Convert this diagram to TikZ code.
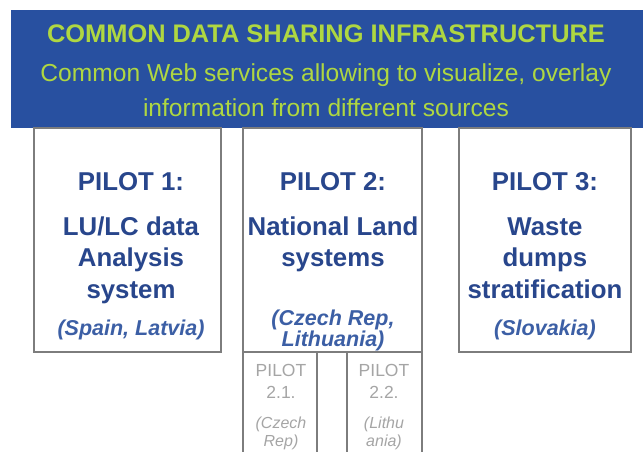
\documentclass[tikz,border=0pt]{standalone}
\usepackage{fontspec}
\setmainfont{Liberation Sans}
\definecolor{bannerblue}{RGB}{40,80,160}
\definecolor{bannertext}{RGB}{175,215,65}
\definecolor{pilotblue}{RGB}{40,70,140}
\definecolor{countryblue}{RGB}{60,95,165}
\definecolor{boxgray}{RGB}{125,125,125}
\definecolor{subgray}{RGB}{165,165,165}
\begin{document}
\begin{tikzpicture}[x=1pt,y=-1pt,
  every node/.style={inner sep=0pt,anchor=base},
  pilotbox/.style={draw=boxgray,line width=1.6pt,fill=white},
  subbox/.style={draw=boxgray,line width=1.6pt},
  title/.style={text=bannertext,yshift=-9pt,font=\bfseries\fontsize{25.4}{28}\selectfont},
  subtitle/.style={text=bannertext,yshift=-8.5pt,font=\fontsize{24.6}{27}\selectfont},
  pilottext/.style={text=pilotblue,yshift=-9.2pt,font=\bfseries\fontsize{25.8}{29}\selectfont},
  country/.style={text=countryblue,yshift=-7.7pt,font=\bfseries\itshape\fontsize{21.5}{24}\selectfont},
  subtext/.style={text=subgray,yshift=-6.3pt,font=\fontsize{17.5}{20}\selectfont},
  subcountry/.style={text=subgray,yshift=-5.7pt,font=\itshape\fontsize{16}{18}\selectfont}]
\useasboundingbox (0,0) rectangle (643,452);
\fill[white] (0,0) rectangle (643,452);

% banner
\fill[bannerblue] (11,10) rectangle (650,128);
\node[title] (ttl) at (326,34) {COMMON DATA SHARING INFRASTRUCTURE};
\node[subtitle] (sub1) at (326,73) {Common Web services allowing to visualize, overlay};
\node[subtitle] (sub2) at (326,108) {information from different sources};

% pilot boxes
\draw[pilotbox] (34,128) rectangle (221,352);
\draw[pilotbox] (243,128) rectangle (422,352);
\draw[pilotbox] (459,128) rectangle (631,352);

% sub-pilot boxes under pilot 2 (open below)
\begin{scope}
\clip (0,0) rectangle (643,452);
\draw[subbox] (243,462) -- (243,352) -- (317,352) -- (317,462);
\draw[subbox] (347,462) -- (347,352) -- (422,352) -- (422,462);
\end{scope}

% pilot 1
\node[pilottext] (p1) at (131,181) {PILOT 1:};
\node[pilottext] (p1a) at (131,226) {LU/LC data};
\node[pilottext] (p1b) at (131,257) {Analysis};
\node[pilottext] (p1c) at (131,289) {system};
\node[country] (p1d) at (131,328) {(Spain, Latvia)};

% pilot 2
\node[pilottext] (p2) at (333,181) {PILOT 2:};
\node[pilottext] (p2a) at (333,226) {National Land};
\node[pilottext] (p2b) at (333,257) {systems};
\node[country] (p2c) at (333,318) {(Czech Rep,};
\node[country] (p2d) at (333,339) {Lithuania)};

% pilot 3
\node[pilottext] (p3) at (545,181) {PILOT 3:};
\node[pilottext] (p3a) at (545,226) {Waste};
\node[pilottext] (p3b) at (545,257) {dumps};
\node[pilottext] (p3c) at (545,289) {stratification};
\node[country] (p3d) at (545,328) {(Slovakia)};

% pilot 2.1 and 2.2
\node[subtext] (s1) at (281,370) {PILOT};
\node[subtext] (s1a) at (281,392) {2.1.};
\node[subcountry] (s1b) at (281,423) {(Czech};
\node[subcountry] (s1c) at (281,441) {Rep)};
\node[subtext] (s2) at (384,370) {PILOT};
\node[subtext] (s2a) at (384,392) {2.2.};
\node[subcountry] (s2b) at (384,423) {(Lithu};
\node[subcountry] (s2c) at (384,441) {ania)};
\end{tikzpicture}
\end{document}
